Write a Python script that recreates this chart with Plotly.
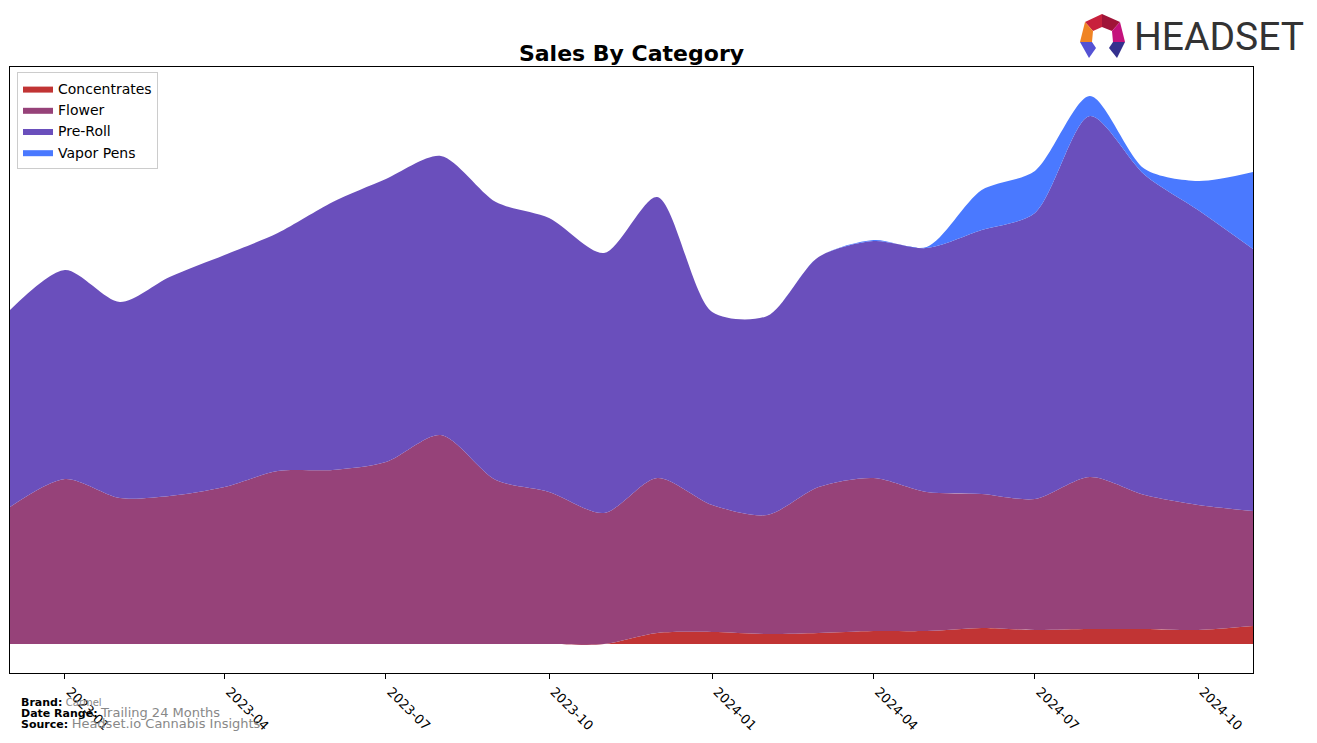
import plotly.graph_objects as go

months = ["2022-12-01", "2023-01-01", "2023-02-01", "2023-03-01", "2023-04-01", "2023-05-01",
          "2023-06-01", "2023-07-01", "2023-08-01", "2023-09-01", "2023-10-01", "2023-11-01",
          "2023-12-01", "2024-01-01", "2024-02-01", "2024-03-01", "2024-04-01", "2024-05-01",
          "2024-06-01", "2024-07-01", "2024-08-01", "2024-09-01", "2024-10-01", "2024-11-01"]

concentrates = [0, 0, 0, 0, 0, 0, 0, 0, 0, 0, 0, 0,
                11, 12, 10, 11, 13, 13, 16, 14, 15, 15, 14, 18]
flower = [137, 165, 146, 148, 157, 173, 174, 182, 209, 164, 152, 131,
          155, 127, 119, 146, 153, 139, 134, 131, 152, 134, 125, 115]
pre_roll = [197, 209, 196, 219, 232, 238, 268, 283, 279, 278, 274, 260,
            281, 193, 199, 230, 237, 244, 264, 286, 361, 320, 295, 262]
vapor_pens = [0, 0, 0, 0, 0, 0, 0, 0, 0, 0, 0, 0,
              0, 0, 0, 0, 1, 1, 40, 42, 20, 6, 29, 77]

tick_vals = ["2023-01-01", "2023-04-01", "2023-07-01", "2023-10-01",
             "2024-01-01", "2024-04-01", "2024-07-01", "2024-10-01"]
tick_text = ["2023-01", "2023-04", "2023-07", "2023-10",
             "2024-01", "2024-04", "2024-07", "2024-10"]

series = [
    ("Concentrates", concentrates, "#c13434"),
    ("Flower", flower, "#964279"),
    ("Pre-Roll", pre_roll, "#6a4fbc"),
    ("Vapor Pens", vapor_pens, "#4a79ff"),
]

fig = go.Figure()
for name, vals, col in series:
    fig.add_trace(go.Scatter(
        x=months, y=vals, name=name, mode="lines", stackgroup="one",
        line=dict(width=0, shape="spline", smoothing=0.8, color=col),
        fillcolor=col,
    ))

# plot-area pixel geometry (for placing decorations)
L, R, T, B = 10, 1253, 67, 673
W, H = R - L, B - T


def px(x, y):
    return (x - L) / W, (B - y) / H


fig.update_layout(
    width=1317, height=743,
    margin=dict(l=L, r=1317 - R, t=T, b=743 - B),
    paper_bgcolor="white", plot_bgcolor="white",
    font=dict(family="DejaVu Sans", size=13, color="black"),
    title=dict(text="<b>Sales By Category</b>", x=(L + R) / 2 / 1317, xanchor="center",
               y=1 - 53 / 743, yanchor="middle", font=dict(size=22, family="DejaVu Sans")),
    showlegend=True,
    legend=dict(x=px(17, 0)[0], y=px(0, 72)[1], xanchor="left", yanchor="top",
                bgcolor="white", bordercolor="#cccccc", borderwidth=1,
                font=dict(size=14, family="DejaVu Sans"), traceorder="normal",
                itemsizing="constant", tracegroupgap=0),
    xaxis=dict(range=["2022-12-01", "2024-11-01"], tickvals=tick_vals, ticktext=tick_text,
               tickangle=45, ticks="outside", ticklen=5, tickcolor="black",
               ticklabelshift=5,
               showgrid=False, zeroline=False, showline=True, linecolor="black",
               linewidth=1, mirror=True, tickfont=dict(size=13, family="DejaVu Sans")),
    yaxis=dict(range=[-29, 577], showticklabels=False, ticks="", showgrid=False,
               zeroline=False, showline=True, linecolor="black", linewidth=1, mirror=True),
)

# footer
foot = [
    (19, 702, "<b>Brand:</b> <span style='color:#888888;font-size:10px'>Carmel</span>"),
    (19, 712, "<b>Date Range:</b> <span style='color:#888888;font-size:13px'>Trailing 24 Months</span>"),
    (19, 723, "<b>Source:</b> <span style='color:#888888;font-size:13px'>Headset.io Cannabis Insights</span>"),
]
for fx, fy, txt in foot:
    xp, yp = px(fx, fy)
    fig.add_annotation(text=txt, x=xp, y=yp, xref="paper", yref="paper", xanchor="left",
                       yanchor="middle", showarrow=False, font=dict(size=11, family="DejaVu Sans"))

# logo icon
polys = [
    ([(1085, 22), (1102, 14), (1102, 27), (1093, 31)], "#c8203c"),
    ([(1102, 14), (1120, 22), (1112, 31), (1102, 27)], "#a01438"),
    ([(1085, 22), (1093, 31), (1092, 42), (1080, 42)], "#f08424"),
    ([(1120, 22), (1125, 42), (1113, 42), (1112, 31)], "#c4127c"),
    ([(1080, 42), (1092, 42), (1096, 48), (1089, 58)], "#5452d4"),
    ([(1125, 42), (1113, 42), (1109, 48), (1117, 58)], "#34308e"),
]
for pts, col in polys:
    path = "M " + " L ".join(f"{px(a, b)[0]:.5f},{px(a, b)[1]:.5f}" for a, b in pts) + " Z"
    fig.add_shape(type="path", path=path, xref="paper", yref="paper",
                  fillcolor=col, line=dict(width=0))

hx, hy = px(1132, 37)
fig.add_annotation(text="HEADSET", x=hx, y=hy, xref="paper", yref="paper", xanchor="left",
                   yanchor="middle", showarrow=False,
                   font=dict(size=39, color="#333333", family="Roboto"))

fig.write_html("out.html")
